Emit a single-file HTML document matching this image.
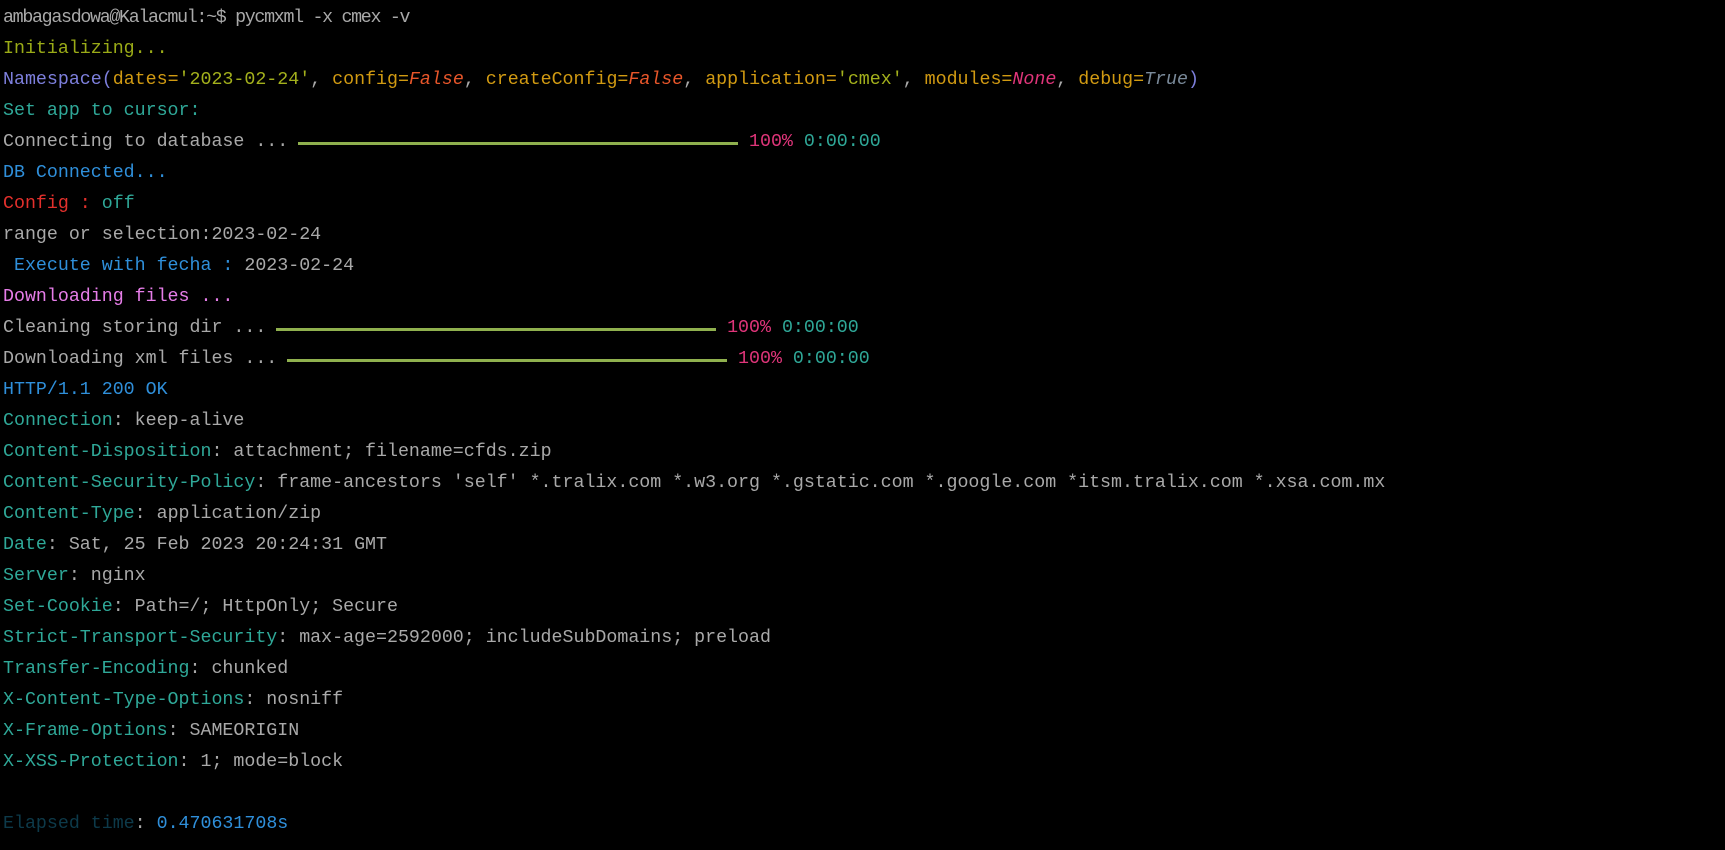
<!DOCTYPE html>
<html><head><meta charset="utf-8"><style>
html,body{margin:0;padding:0;background:#000;width:1725px;height:850px;overflow:hidden}
body{font-family:"Liberation Mono",monospace;font-size:18.3px;color:#a9a9a9;position:relative}
.l{position:absolute;left:3px;height:31px;line-height:31px;white-space:pre}
.y{color:#9aab17}.p{color:#7d7fdc}.o{color:#d19a12}.s{color:#a3b01c}.f{color:#e8562a;font-style:italic}
.n{color:#e0357a;font-style:italic}.t{color:#7a8a9a;font-style:italic}.c{color:#2fa898}.b{color:#2f8fda}
.r{color:#e3302c}.m{color:#e67de8}.k{color:#2fa898}.pk{color:#e0357a}.e{color:#0d3a4a}
.bar{position:absolute;height:3px;background:#8fb04e}
</style></head><body>
<div class="l" style="top:3px;letter-spacing:-1.3px;font-family:'Liberation Mono',monospace">ambagasdowa@Kalacmul:~$ pycmxml -x cmex -v</div>
<div class="l y" style="top:34px">Initializing...</div>
<div class="l" style="top:65px"><span class="p">Namespace(</span><span class="o">dates=</span><span class="s">'2023-02-24'</span>, <span class="o">config=</span><span class="f">False</span>, <span class="o">createConfig=</span><span class="f">False</span>, <span class="o">application=</span><span class="s">'cmex'</span>, <span class="o">modules=</span><span class="n">None</span>, <span class="o">debug=</span><span class="t">True</span><span class="p">)</span></div>
<div class="l c" style="top:96px">Set app to cursor:</div>
<div class="l" style="top:127px">Connecting to database ...                                          <span class="pk">100%</span> <span class="c">0:00:00</span></div>
<div class="bar" style="top:142px;left:298px;width:440px"></div>
<div class="l b" style="top:158px">DB Connected...</div>
<div class="l" style="top:189px"><span class="r">Config : </span><span class="c">off</span></div>
<div class="l" style="top:220px">range or selection:2023-02-24</div>
<div class="l" style="top:251px"><span class="b"> Execute with fecha : </span>2023-02-24</div>
<div class="l m" style="top:282px">Downloading files ...</div>
<div class="l" style="top:313px">Cleaning storing dir ...                                          <span class="pk">100%</span> <span class="c">0:00:00</span></div>
<div class="bar" style="top:328px;left:276px;width:440px"></div>
<div class="l" style="top:344px">Downloading xml files ...                                          <span class="pk">100%</span> <span class="c">0:00:00</span></div>
<div class="bar" style="top:359px;left:287px;width:440px"></div>
<div class="l b" style="top:375px">HTTP/1.1 200 OK</div>
<div class="l" style="top:406px"><span class="k">Connection</span>: keep-alive</div>
<div class="l" style="top:437px"><span class="k">Content-Disposition</span>: attachment; filename=cfds.zip</div>
<div class="l" style="top:468px"><span class="k">Content-Security-Policy</span>: frame-ancestors 'self' *.tralix.com *.w3.org *.gstatic.com *.google.com *itsm.tralix.com *.xsa.com.mx</div>
<div class="l" style="top:499px"><span class="k">Content-Type</span>: application/zip</div>
<div class="l" style="top:530px"><span class="k">Date</span>: Sat, 25 Feb 2023 20:24:31 GMT</div>
<div class="l" style="top:561px"><span class="k">Server</span>: nginx</div>
<div class="l" style="top:592px"><span class="k">Set-Cookie</span>: Path=/; HttpOnly; Secure</div>
<div class="l" style="top:623px"><span class="k">Strict-Transport-Security</span>: max-age=2592000; includeSubDomains; preload</div>
<div class="l" style="top:654px"><span class="k">Transfer-Encoding</span>: chunked</div>
<div class="l" style="top:685px"><span class="k">X-Content-Type-Options</span>: nosniff</div>
<div class="l" style="top:716px"><span class="k">X-Frame-Options</span>: SAMEORIGIN</div>
<div class="l" style="top:747px"><span class="k">X-XSS-Protection</span>: 1; mode=block</div>
<div class="l" style="top:809px"><span class="e">Elapsed time</span>: <span class="b">0.470631708s</span></div>
</body></html>
